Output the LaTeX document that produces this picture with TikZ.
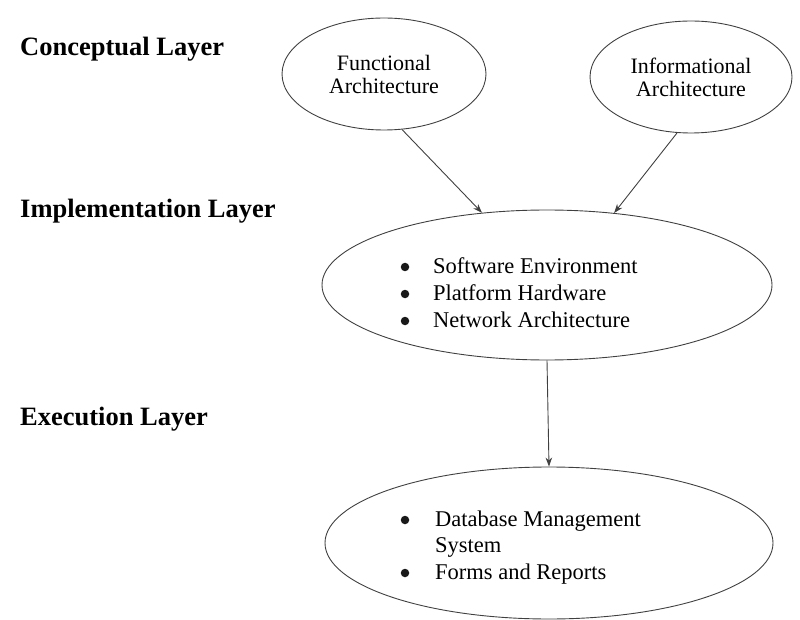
\documentclass[tikz,border=0pt]{standalone}
\usepackage{fontspec}
\setmainfont{Liberation Serif}
\usetikzlibrary{shapes.geometric,arrows.meta}
\tikzset{
	layer/.style={anchor=base west,inner sep=0pt,font=\fontsize{26.5}{30}\selectfont\bfseries},
	bubble/.style={ellipse,draw=black!75,line width=0.9pt,inner sep=0pt,align=center,font=\fontsize{22}{23}\selectfont},
	entry/.style={anchor=base west,inner sep=0pt,font=\fontsize{22.5}{27}\selectfont},
	dot/.style={circle,fill=black!90,inner sep=0pt,minimum size=8.5pt},
	link/.style={draw=black!75,line width=0.9pt,-{Stealth[length=9pt,width=6.5pt]}}
}
\begin{document}
\begin{tikzpicture}[x=1pt,y=-1pt]
				\useasboundingbox (0,0) rectangle (800,620);
				
				\node[layer] (concLayer) at (20,56) {Conceptual Layer};
				\node[layer] (implLayer) at (20,218) {Implementation Layer};
				\node[layer] (execLayer) at (20,425) {Execution Layer};
				
				\node[bubble,minimum width=204pt,minimum height=112pt] (func) at (384,74) {Functional\\Architecture};
				\node[bubble,minimum width=202pt,minimum height=112pt] (info) at (691,77) {Informational\\Architecture};
				\node[bubble,minimum width=450pt,minimum height=150pt] (impl) at (547,285) {};
				\node[bubble,minimum width=448pt,minimum height=152pt] (exec) at (549,543) {};
				
				\foreach \entry [count=\n] in {Software Environment,Platform Hardware,Network Architecture} {
					\node[dot] (implDot\n) at (405,{240+27*\n}) {};
					\node[entry] (implItem\n) at (433,{246+27*\n}) {\entry};
				}
				
				\foreach \entry/\hasdot [count=\n] in {Database Management/1,System/0,Forms and Reports/1} {
					\ifnum\hasdot=1
						\node[dot] (execDot\n) at (405,{493.5+26.5*\n}) {};
					\fi
					\node[entry] (execItem\n) at (435,{499.5+26.5*\n}) {\entry};
				}
				
				\draw[link] (func.-72) -- (impl.132);
				\draw[link] (info.-104) -- (impl.47.5);
				\draw[link] (impl.south) -- (exec.north);
			\end{tikzpicture}
\end{document}
